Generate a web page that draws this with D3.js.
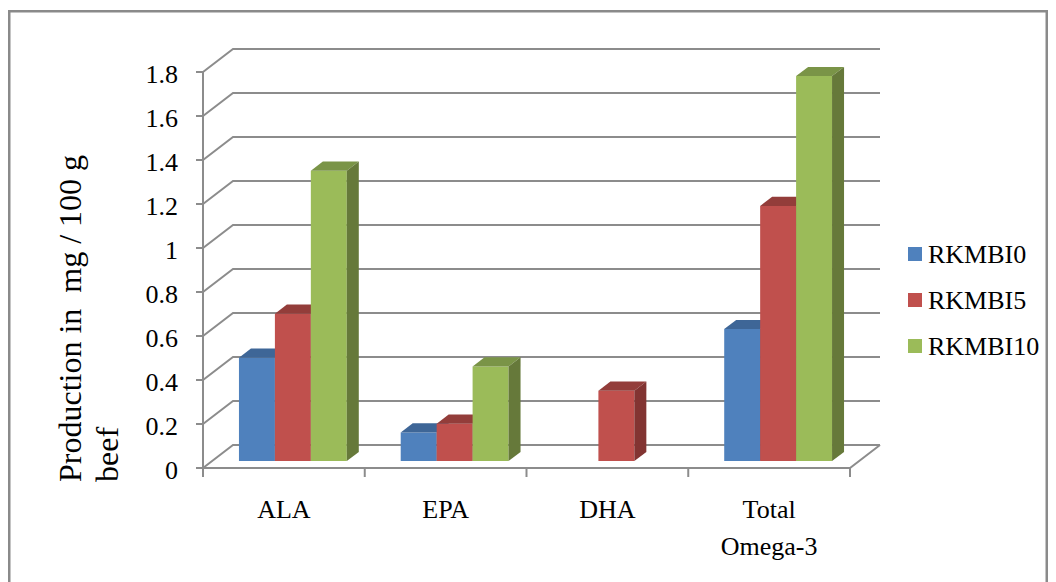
<!DOCTYPE html>
<html>
<head>
<meta charset="utf-8">
<script src="https://cdn.jsdelivr.net/npm/d3@7"></script>
<style>
  body { margin: 0; background: #fff; }
  svg { display: block; }
  text { font-family: "Liberation Serif", "Times New Roman", serif; fill: #000; }
</style>
</head>
<body>
<svg id="chart" width="1056" height="582"></svg>
<script>
// Omega-3 fatty acid production per series
const categories = ["ALA", "EPA", "DHA", "Total Omega-3"];
const categoryLines = [["ALA"], ["EPA"], ["DHA"], ["Total", "Omega-3"]];
const seriesNames = ["RKMBI0", "RKMBI5", "RKMBI10"];
const rkmbi0 = [0.47, 0.13, 0, 0.60];
const rkmbi5 = [0.67, 0.17, 0.32, 1.16];
const rkmbi10 = [1.32, 0.43, 0, 1.75];
const yTicks = [0, 0.2, 0.4, 0.6, 0.8, 1, 1.2, 1.4, 1.6, 1.8];
const yTickLabels = ["0", "0.2", "0.4", "0.6", "0.8", "1", "1.2", "1.4", "1.6", "1.8"];

const seriesValues = [rkmbi0, rkmbi5, rkmbi10];
const faceColors = [
  { front: "#4F81BD", top: "#3E6697", side: "#395E8C" },
  { front: "#C0504D", top: "#933D3A", side: "#823432" },
  { front: "#9BBB59", top: "#7A9447", side: "#66793A" }
];

const svg = d3.select("#chart");

// Plot geometry: front plane, depth offset of the 3D box
const plot = { left: 203, right: 850, bottom: 468, top: 72 };
const depth = { dx: 30, dy: -23 };
const barFront = 0.3, barBack = 0.7;

const x = d3.scaleBand().domain(categories).range([plot.left, plot.right]).paddingInner(0).paddingOuter(0);
const xs = d3.scaleBand().domain(seriesNames).range([0, x.bandwidth()]).paddingInner(0).paddingOuter(0.75);
const y = d3.scaleLinear().domain([0, 1.8]).range([plot.bottom, plot.top]);

const grid = "#8c8c8c";

// Outer frame
svg.append("rect")
  .attr("x", 9.25).attr("y", 11.25)
  .attr("width", 1037.5).attr("height", 600)
  .attr("fill", "none").attr("stroke", "#8a8a8a").attr("stroke-width", 2.5);

// Back wall gridlines and side wall diagonals
const gG = svg.append("g").attr("stroke", grid).attr("stroke-width", 2).attr("fill", "none");
yTicks.forEach(t => {
  const yf = y(t), yb = y(t) + depth.dy;
  gG.append("path").attr("d", `M${plot.left},${yf}L${plot.left + depth.dx},${yb}L${plot.right + depth.dx},${yb}`);
});
// Floor front edge and right edge
gG.append("path").attr("d",
  `M${plot.left},${y(0)}L${plot.right},${y(0)}L${plot.right + depth.dx},${y(0) + depth.dy}`);
// Vertical axis line
gG.append("path").attr("d", `M${plot.left},${y(0)}L${plot.left},${y(1.8)}`);
// Y tick marks
yTicks.forEach(t => {
  gG.append("path").attr("d", `M${plot.left - 7},${y(t)}L${plot.left},${y(t)}`);
});
// Category tick marks
const catEdges = categories.map(c => x(c)).concat([x(categories[categories.length - 1]) + x.bandwidth()]);
catEdges.forEach(e => {
  gG.append("path").attr("d", `M${e},${y(0)}L${e},${y(0) + 9}`);
});

// Y tick labels
svg.append("g").selectAll("text").data(yTicks).join("text")
  .attr("x", 178).attr("y", d => y(d) + 11)
  .attr("text-anchor", "end").attr("font-size", 26)
  .text((d, i) => yTickLabels[i]);

// Bars (painted left to right so each bar hides its neighbour's side face)
const bars = svg.append("g");
const fx = (px, d) => px + d * depth.dx;
const fy = (py, d) => py + d * depth.dy;
categories.forEach((cat, ci) => {
  seriesNames.forEach((s, si) => {
    const v = seriesValues[si][ci];
    if (!v) return;
    const xl = x(cat) + xs(s), xr = xl + xs.bandwidth();
    const yb = y(0), yt = y(v);
    const c = faceColors[si];
    // front face
    bars.append("path").attr("fill", c.front)
      .attr("d", `M${fx(xl, barFront)},${fy(yb, barFront)}L${fx(xl, barFront)},${fy(yt, barFront)}L${fx(xr, barFront)},${fy(yt, barFront)}L${fx(xr, barFront)},${fy(yb, barFront)}Z`);
    // top face
    bars.append("path").attr("fill", c.top)
      .attr("d", `M${fx(xl, barFront)},${fy(yt, barFront)}L${fx(xl, barBack)},${fy(yt, barBack)}L${fx(xr, barBack)},${fy(yt, barBack)}L${fx(xr, barFront)},${fy(yt, barFront)}Z`);
    // right side face
    bars.append("path").attr("fill", c.side)
      .attr("d", `M${fx(xr, barFront)},${fy(yt, barFront)}L${fx(xr, barBack)},${fy(yt, barBack)}L${fx(xr, barBack)},${fy(yb, barBack)}L${fx(xr, barFront)},${fy(yb, barFront)}Z`);
  });
});

// Category labels
const xl = svg.append("g");
categories.forEach((cat, ci) => {
  const t = xl.append("text")
    .attr("x", x(cat) + x.bandwidth() / 2)
    .attr("y", 518)
    .attr("text-anchor", "middle").attr("font-size", 26);
  categoryLines[ci].forEach((line, li) => {
    t.append("tspan").attr("x", x(cat) + x.bandwidth() / 2).attr("dy", li === 0 ? 0 : 37).text(line);
  });
});

// Y axis title (two lines, rotated)
const yt = svg.append("text")
  .attr("transform", "translate(0,482) rotate(-90)")
  .attr("font-size", 32)
  .style("white-space", "pre");
yt.append("tspan").attr("x", 0).attr("y", 81).text("Production in  mg / 100 g");
yt.append("tspan").attr("x", 0).attr("y", 118).text("beef");

// Legend
const legend = svg.append("g");
seriesNames.forEach((s, i) => {
  const cy = 254 + i * 46;
  legend.append("rect").attr("x", 908).attr("y", cy - 7).attr("width", 14).attr("height", 14)
    .attr("fill", faceColors[i].front);
  legend.append("text").attr("x", 928).attr("y", cy + 8.5).attr("font-size", 26).text(s);
});
</script>
</body>
</html>
